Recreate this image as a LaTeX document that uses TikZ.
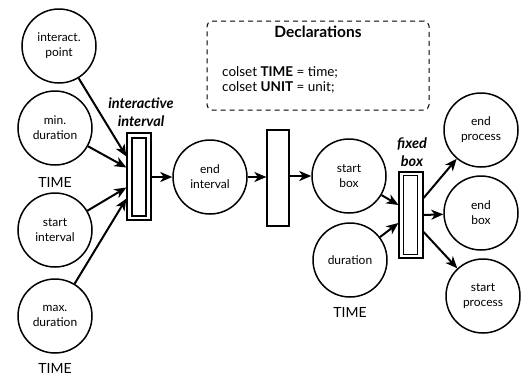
\documentclass[tikz,border=0pt]{standalone}
\usepackage{fontspec}
\setmainfont{Lato}
\usetikzlibrary{arrows.meta}
\begin{document}
\begin{tikzpicture}[x=1pt,y=-1pt,
  place/.style={circle,draw,line width=1.5pt,minimum size=74pt,inner sep=0pt,align=center,font=\fontsize{12}{15}\selectfont},
  arc/.style={-{Stealth[length=12pt,width=10pt,inset=3.5pt]},line width=2pt},
  lbl/.style={font=\fontsize{14}{16}\selectfont},
  tlbl/.style={font=\fontsize{14.5}{18}\selectfont\bfseries\itshape,align=center},
  trans/.style={draw,line width=1.2pt,inner sep=0pt,fill=white},
  decl/.style={draw,dash pattern=on 5pt off 4pt,rounded corners=5pt,line width=1pt}]
\useasboundingbox (0,0) rectangle (521,375);
% declarations
\node[decl,minimum width=222pt,minimum height=89pt] (dbox) at (318,65.5) {};
\node[font=\fontsize{15.5}{17}\selectfont\bfseries] (dtitle) at (318,32) {Declarations};
\node[anchor=west,font=\fontsize{13.5}{15}\selectfont,inner sep=0pt] (d1) at (222,72) {colset \textbf{TIME} = time;};
\node[anchor=west,font=\fontsize{13.5}{15}\selectfont,inner sep=0pt] (d2) at (222,87) {colset \textbf{UNIT} = unit;};
% places left
\node[place] (ip) at (59,46) {interact.\\point};
\node[place] (mind) at (55,128) {min.\\duration};
\node[lbl] (t1) at (55,182) {TIME};
\node[place] (si) at (55,230) {start\\interval};
\node[place] (maxd) at (55,316) {max.\\duration};
\node[lbl] (t2) at (55,368) {TIME};
% interactive interval transition
\node[trans,minimum width=24pt,minimum height=87pt] (ii) at (139,176.5) {};
\node[trans,minimum width=14pt,minimum height=78pt] (iiin) at (139,177) {};
\node[tlbl] (iil) at (141,112) {interactive\\interval};
% middle
\node[place] (ei) at (210,177) {end\\interval};
\node[trans,minimum width=22pt,minimum height=96pt] (mt) at (278,178) {};
\node[place] (sb) at (349,176) {start\\box};
\node[place] (du) at (350,260) {duration};
\node[lbl] (t3) at (350,312) {TIME};
% fixed box transition
\node[trans,minimum width=24pt,minimum height=86pt] (fb) at (411,215) {};
\node[trans,minimum width=14pt,minimum height=79pt] (fbin) at (410.5,215) {};
\node[tlbl] (fbl) at (412,152) {fixed\\box};
% places right
\node[place] (ep) at (481,130) {end\\process};
\node[place] (eb) at (481,213) {end\\box};
\node[place] (sp) at (483,296) {start\\process};
% arcs
\draw[arc] (ip) -- ([yshift=20pt]ii.west);
\draw[arc] (mind) -- ([yshift=9pt]ii.west);
\draw[arc] (si) -- ([yshift=-11pt]ii.west);
\draw[arc] (maxd) -- ([yshift=-22pt]ii.west);
\draw[arc] (ii.east |- ei) -- (ei);
\draw[arc] (ei) -- (mt.west |- ei);
\draw[arc] (mt.east |- sb) -- (sb);
\draw[arc] (sb) -- ([yshift=10pt]fb.west);
\draw[arc] (du) -- ([yshift=-8pt]fb.west);
\draw[arc] ([yshift=17pt]fb.east) -- (ep);
\draw[arc] (fb.east) -- (eb);
\draw[arc] ([yshift=-17pt]fb.east) -- (sp);
\end{tikzpicture}
\end{document}
